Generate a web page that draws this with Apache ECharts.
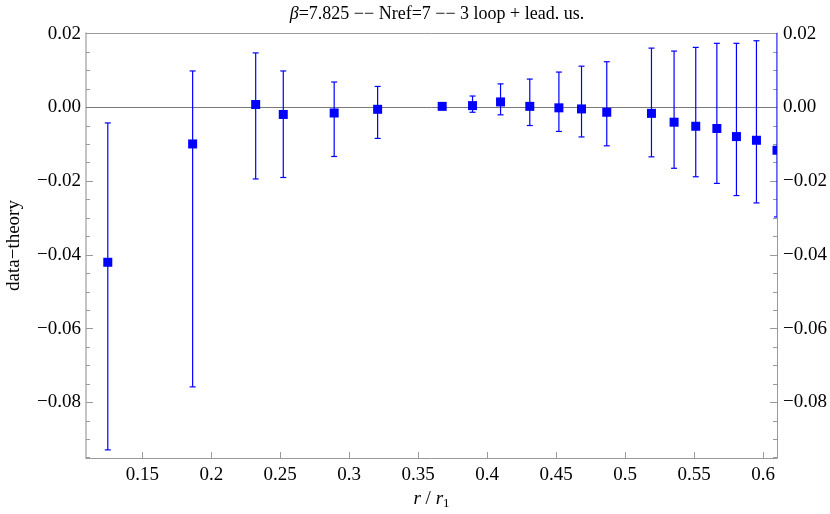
<!DOCTYPE html>
<html><head><meta charset="utf-8">
<script src="https://cdn.jsdelivr.net/npm/echarts@6/dist/echarts.min.js"></script>
<style>html,body{margin:0;padding:0;background:#fff}#c{width:830px;height:514px}</style>
</head><body><div id="c"></div>
<script>
// ---- data ----
const rValues = [0.125, 0.1865, 0.2322, 0.2522, 0.2891, 0.3206, 0.3674, 0.3894, 0.4097, 0.4309, 0.4520, 0.4684, 0.4867, 0.5191, 0.5355, 0.5512, 0.5665, 0.5807, 0.5952, 0.6101];
const diffValues = [-0.0420, -0.0099, 0.0008, -0.0019, -0.0015, -0.0005, 0.0003, 0.0005, 0.0015, 0.0003, -0.0001, -0.0004, -0.0013, -0.0016, -0.0040, -0.0051, -0.0057, -0.0079, -0.0089, -0.0116];
const errLow = [-0.0929, -0.0758, -0.0194, -0.0190, -0.0133, -0.0084, 0.0001, -0.0013, -0.0020, -0.0049, -0.0065, -0.0080, -0.0104, -0.0134, -0.0165, -0.0188, -0.0206, -0.0239, -0.0259, -0.0297];
const errHigh = [-0.0042, 0.0099, 0.0148, 0.0099, 0.0069, 0.0057, 0.0005, 0.0031, 0.0064, 0.0077, 0.0096, 0.0112, 0.0124, 0.0161, 0.0153, 0.0163, 0.0174, 0.0174, 0.0181, 0.0230];
const xTicks = [0.15, 0.2, 0.25, 0.3, 0.35, 0.4, 0.45, 0.5, 0.55, 0.6];
const yTicks = [-0.08, -0.06, -0.04, -0.02, 0.0, 0.02];
const yMinorTicks = [-0.095, -0.09, -0.085, -0.075, -0.07, -0.065, -0.055, -0.05, -0.045, -0.035, -0.03, -0.025, -0.015, -0.01, -0.005, 0.005, 0.01, 0.015];
const xRange = [0.1092, 0.6101];
const yRange = [-0.0951, 0.0202];
const titleText = '{b|β}=7.825 −− Nref=7 −− 3 loop + lead. us.';

const FONT = '"Liberation Serif", "Times New Roman", serif';
const FS = 19;
const AXIS_COL = '#9a9a9a';
function fmtY(v){ const s = Math.abs(v).toFixed(2); return (v < -1e-9 ? '\u2212' : '') + s; }
function fmtX(v){ return String(+v.toFixed(2)); }

const data = rValues.map((r,i)=>[r, diffValues[i], errLow[i], errHigh[i]]);

function renderItem(params, api){
  const x = api.value(0), y = api.value(1), lo = api.value(2), hi = api.value(3);
  const pc = api.coord([x, y]);
  const pl = api.coord([x, lo]);
  const ph = api.coord([x, hi]);
  const cap = 3;
  const st = {stroke:'#0000ff', lineWidth:1.2};
  return {type:'group', children:[
    {type:'line', shape:{x1:pc[0], y1:pl[1], x2:pc[0], y2:ph[1]}, style:st},
    {type:'line', shape:{x1:pc[0]-cap, y1:pl[1], x2:pc[0]+cap, y2:pl[1]}, style:st},
    {type:'line', shape:{x1:pc[0]-cap, y1:ph[1], x2:pc[0]+cap, y2:ph[1]}, style:st},
    {type:'rect', shape:{x:pc[0]-4.5, y:pc[1]-4.5, width:9, height:9}, style:{fill:'#0000ff'}}
  ]};
}

const yBase = {type:'value', min:yRange[0], max:yRange[1], splitLine:{show:false}, gridIndex:0};
const chart = echarts.init(document.getElementById('c'), null, {renderer:'canvas'});
chart.setOption({
  animation:false,
  backgroundColor:'#fff',
  title:{text:titleText, left:432, textAlign:'center', top:0,
    textStyle:{fontFamily:FONT, fontSize:18, fontWeight:'normal', color:'#000',
      rich:{b:{fontFamily:FONT, fontSize:18, fontStyle:'italic', color:'#000'}}}},
  grid:{left:86, right:53, top:33, bottom:56, show:false, containLabel:false, outerBoundsMode:'none'},
  xAxis:[
    {type:'value', min:xRange[0], max:xRange[1], position:'bottom',
     axisLine:{show:true, onZero:false, lineStyle:{color:AXIS_COL, width:1}},
     axisTick:{show:true, inside:true, length:6, customValues:xTicks, lineStyle:{color:AXIS_COL}},
     axisLabel:{customValues:xTicks, formatter:fmtX, fontFamily:FONT, fontSize:FS, color:'#000', margin:8},
     splitLine:{show:false},
     name:'{i|r} / {i|r}{s|1}', nameLocation:'middle', nameGap:29,
     nameTextStyle:{fontFamily:FONT, fontSize:FS, color:'#000', verticalAlign:'top',
       rich:{i:{fontFamily:FONT, fontSize:FS, fontStyle:'italic'}, s:{fontFamily:FONT, fontSize:13, verticalAlign:'bottom', padding:[8,0,0,0]}}}},
    {type:'value', min:xRange[0], max:xRange[1], position:'top',
     axisLine:{show:true, onZero:false, lineStyle:{color:AXIS_COL, width:1}},
     axisTick:{show:false}, axisLabel:{show:false}, splitLine:{show:false}}
  ],
  yAxis:[
    Object.assign({}, yBase, {position:'left',
     axisLine:{show:true, onZero:false, lineStyle:{color:'#b0b0b0', width:1.5}},
     axisTick:{show:true, inside:true, length:7, customValues:yTicks, lineStyle:{color:AXIS_COL}},
     axisLabel:{customValues:yTicks, formatter:fmtY, fontFamily:FONT, fontSize:FS, color:'#000', margin:5},
     name:'data\u2212theory', nameLocation:'middle', nameGap:62, nameRotate:90,
     nameTextStyle:{fontFamily:FONT, fontSize:FS, color:'#000'}}),
    Object.assign({}, yBase, {position:'left',
     axisLine:{show:false}, axisLabel:{show:false},
     axisTick:{show:true, inside:true, length:4, customValues:yMinorTicks, lineStyle:{color:AXIS_COL}}}),
    Object.assign({}, yBase, {position:'right',
     axisLine:{show:true, onZero:false, lineStyle:{color:AXIS_COL, width:1}},
     axisTick:{show:true, inside:true, length:7, customValues:yTicks, lineStyle:{color:AXIS_COL}},
     axisLabel:{customValues:yTicks, formatter:fmtY, fontFamily:FONT, fontSize:FS, color:'#000', margin:6}}),
    Object.assign({}, yBase, {position:'right',
     axisLine:{show:false}, axisLabel:{show:false},
     axisTick:{show:true, inside:true, length:4, customValues:yMinorTicks, lineStyle:{color:AXIS_COL}}})
  ],
  series:[
    {type:'custom', xAxisIndex:0, yAxisIndex:0, clip:true, renderItem:renderItem, data:data, z:5,
     markLine:{silent:true, symbol:'none', label:{show:false}, lineStyle:{color:'#7a7a7a', width:1, type:'solid'},
       data:[{yAxis:0}], z:1}}
  ]
});
</script></body></html>
